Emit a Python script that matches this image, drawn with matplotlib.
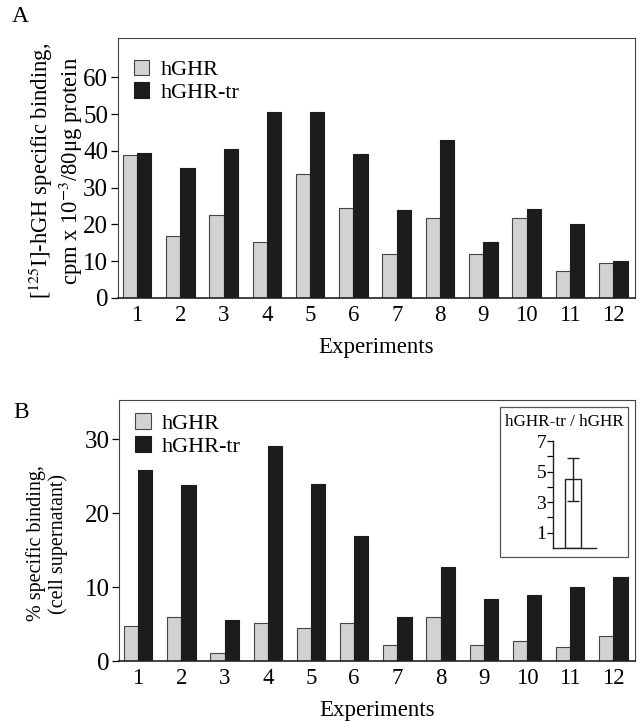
import matplotlib
matplotlib.use('Agg')
import matplotlib.pyplot as plt
import matplotlib.patches as mpatches
import numpy as np

experiments = list(range(1, 13))

# panel A: [125I]-hGH specific binding
a_hghr = [38.9, 16.9, 22.5, 15.3, 33.6, 24.4, 12.0, 21.7, 11.9, 21.7, 7.4, 9.6]
a_hghr_tr = [39.4, 35.4, 40.4, 50.6, 50.6, 39.1, 23.8, 42.9, 15.2, 24.1, 20.0, 10.1]

# panel B: % specific binding (cell supernatant)
b_hghr = [4.7, 5.9, 1.1, 5.1, 4.4, 5.1, 2.1, 5.9, 2.1, 2.7, 1.85, 3.4]
b_hghr_tr = [25.8, 23.8, 5.5, 29.1, 24.0, 16.9, 5.9, 12.7, 8.4, 8.9, 10.0, 11.4]

# inset: ratio hGHR-tr / hGHR
ratio_mean = 4.5
ratio_err = 1.4

plt.rcParams['font.family'] = ['Liberation Serif', 'DejaVu Serif']
plt.rcParams['mathtext.fontset'] = 'stix'

light = '#d2d2d2'
dark = '#1c1c1c'
w = 0.33

fig = plt.figure(figsize=(6.44, 7.21), dpi=100)


def draw_panel(ax, v1, v2, ymax, yticks, ylabel, ylabel_size, label_xy, legend_y):
    x = np.array(experiments)
    ax.bar(x - w / 2, v1, w, color=light, edgecolor='#444444', linewidth=0.8, label='hGHR')
    ax.bar(x + w / 2, v2, w, color=dark, edgecolor=dark, linewidth=0.8, label='hGHR-tr')
    ax.set_xlim(0.56, 12.5)
    ax.set_ylim(0, ymax)
    ax.set_xticks(x)
    ax.set_xticklabels([str(e) for e in experiments], fontsize=16.5)
    ax.set_yticks(yticks)
    ax.set_yticklabels([str(t) for t in yticks], fontsize=18)
    ax.tick_params(axis='x', length=0, pad=5)
    ax.tick_params(axis='y', length=5, width=0.9, direction='out', pad=2)
    for s in ax.spines.values():
        s.set_linewidth(0.8)
        s.set_color('#444444')
    ax.spines['bottom'].set_linewidth(1.2)
    ax.spines['bottom'].set_color('#222222')
    ax.set_xlabel('Experiments', fontsize=16.5, labelpad=8)
    ax.set_ylabel(ylabel, fontsize=ylabel_size, linespacing=1.1)
    ax.yaxis.set_label_coords(*label_xy)
    ax.legend(loc='upper left', bbox_to_anchor=(0.005, legend_y), frameon=False,
              fontsize=16, handlelength=0.7, handleheight=0.7,
              handletextpad=0.5, labelspacing=0.1, borderaxespad=0.2)


ax_a = fig.add_axes([0.183, 0.5867, 0.803, 0.360])
draw_panel(ax_a, a_hghr, a_hghr_tr, 70.6, [0, 10, 20, 30, 40, 50, 60],
           '[$^{\\mathrm{125}}$I]-hGH specific binding,\ncpm x 10$^{\\mathrm{-3}}$/80\u03bcg protein',
           16.3, (-0.063, 0.49), 0.97)

ax_b = fig.add_axes([0.185, 0.0832, 0.801, 0.362])
draw_panel(ax_b, b_hghr, b_hghr_tr, 35.3, [0, 10, 20, 30],
           '% specific binding,\n(cell supernatant)', 14.5, (-0.1, 0.45), 1.0)

fig.text(12 / 644, 1 - 17 / 721, 'A', fontsize=17, va='center')
fig.text(13 / 644, 1 - 413 / 721, 'B', fontsize=17, va='center')

# inset box and ratio bar
fig.patches.append(mpatches.Rectangle((500 / 644, 1 - 557 / 721), 128 / 644, 150 / 721,
                                      transform=fig.transFigure, fill=True,
                                      facecolor='white', edgecolor='#555555',
                                      linewidth=0.9, zorder=5))
fig.text(564 / 644, 1 - 422 / 721, 'hGHR-tr / hGHR', fontsize=12.3,
         ha='center', va='center', zorder=6)

ax_in = fig.add_axes([553 / 644, 1 - 548 / 721, 43 / 644, 107 / 721], zorder=6)
ax_in.patch.set_alpha(0)
ax_in.bar([0.47], [ratio_mean], 0.36, color='white', edgecolor='#222222', linewidth=1.0)
ax_in.errorbar([0.47], [ratio_mean], yerr=[ratio_err], fmt='none', ecolor='#222222',
               elinewidth=1.0, capsize=4, capthick=1.0)
ax_in.set_xlim(0, 1)
ax_in.set_ylim(0, 7)
ax_in.set_xticks([])
ax_in.set_yticks(range(1, 8))
ax_in.set_yticklabels(['1', '', '3', '', '5', '', '7'], fontsize=14)
ax_in.tick_params(axis='y', length=4, width=0.9, pad=1)
ax_in.spines['top'].set_visible(False)
ax_in.spines['right'].set_visible(False)
ax_in.spines['left'].set_bounds(0, 7)
for s in ['left', 'bottom']:
    ax_in.spines[s].set_linewidth(1.0)
    ax_in.spines[s].set_color('#222222')

fig.savefig('out.png', dpi=100)
